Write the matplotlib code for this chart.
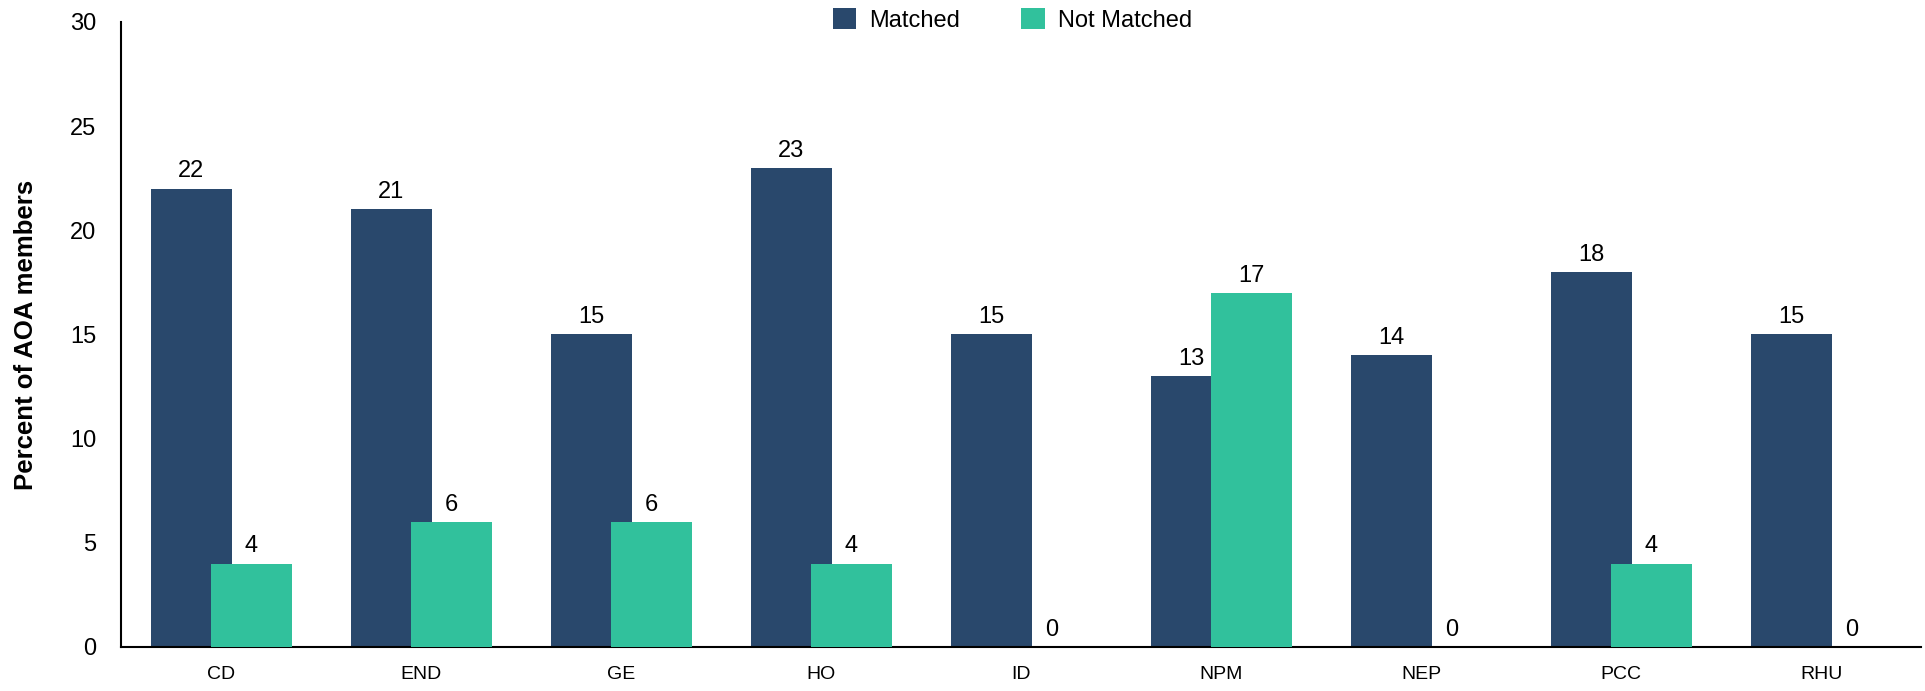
import numpy as np
import matplotlib
matplotlib.use("Agg")
import matplotlib.pyplot as plt

plt.rcParams['font.family'] = ['Liberation Sans', 'DejaVu Sans']

# Datos
categories = ['CD', 'END', 'GE', 'HO', 'ID', 'NPM', 'NEP', 'PCC', 'RHU']
matched = [22, 21, 15, 23, 15, 13, 14, 18, 15]
not_matched = [4, 6, 6, 4, 0, 17, 0, 4, 0]

c_matched = '#29486c'
c_not = '#31c19c'

fig = plt.figure(figsize=(19.25, 6.91), dpi=100)
ax = fig.add_axes([0.0631, 0.0637, 0.935, 0.9045])

x = np.arange(len(categories))
off = 0.15
w = 0.405
ax.bar(x - off, matched, w, color=c_matched, label='Matched', zorder=2)
ax.bar(x + off, not_matched, w, color=c_not, label='Not Matched', zorder=3)

for xi, v in zip(x, matched):
    ax.text(xi - off, v + 0.3, str(v), ha='center', va='bottom', fontsize=17)
for xi, v in zip(x, not_matched):
    ax.text(xi + off, v + 0.3, str(v), ha='center', va='bottom', fontsize=17)

ax.set_xlim(-0.5, 8.5)
ax.set_ylim(0, 30)
ax.set_yticks(range(0, 31, 5))
ax.set_xticks(x)
ax.set_xticklabels(categories, fontsize=14)
ax.tick_params(axis='y', labelsize=17, length=0, pad=18)
ax.tick_params(axis='x', length=0, pad=14)
ax.set_ylabel('Percent of AOA members', fontsize=18.5, fontweight='bold', labelpad=23)

for s in ['top', 'right']:
    ax.spines[s].set_visible(False)
for s in ['left', 'bottom']:
    ax.spines[s].set_linewidth(1.5)
    ax.spines[s].set_color('black')

ax.legend(loc='center', bbox_to_anchor=(0.495, 1.003), ncol=2, frameon=False,
          fontsize=17, handlelength=1.0, handleheight=1.0, columnspacing=2.6,
          handletextpad=0.55)

fig.savefig('out.png', dpi=100)
